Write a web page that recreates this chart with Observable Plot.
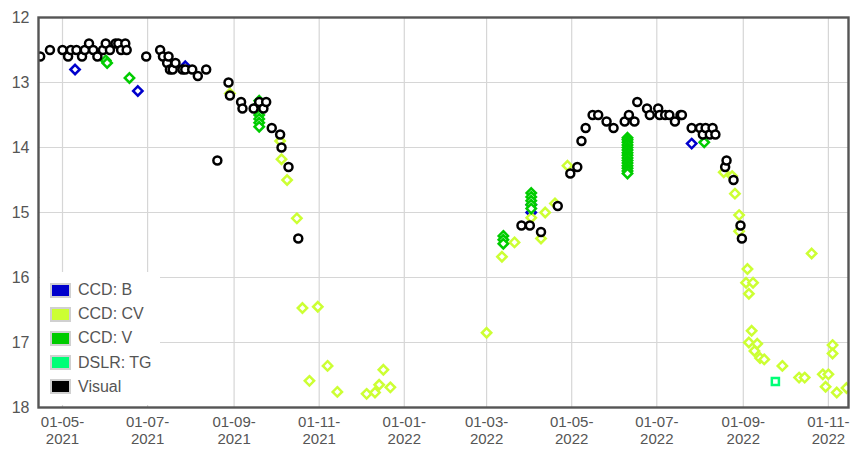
<!DOCTYPE html>
<html>
<head>
<meta charset="utf-8">
<script src="https://cdn.jsdelivr.net/npm/d3@7"></script>
<script src="https://cdn.jsdelivr.net/npm/@observablehq/plot@0.6"></script>
<style>
  html, body { margin: 0; padding: 0; background: #fff; }
  #wrap { position: relative; width: 850px; height: 449px; font-family: "Liberation Sans", Arial, sans-serif; }
  #legend { position: absolute; left: 40px; top: 272px; width: 120px; height: 133px; background: #fff; }
  .row { position: absolute; left: 10px; height: 16px; display: flex; align-items: center; }
  .sw { width: 21px; height: 15px; box-sizing: border-box; border: 2px solid #d0d0d0; margin-right: 7px; }
  .lbl { font-size: 16px; color: #555; white-space: nowrap; }
</style>
</head>
<body>
<div id="wrap"></div>
<script>
// ---- data ----
const seriesNames = ["CCD: B", "CCD: CV", "CCD: V", "DSLR: TG", "Visual"];
const seriesColors = ["#0000cc", "#ccff33", "#00cc00", "#00ff77", "#000000"];

const ccdB = [
  ["2021-05-10", 12.8], ["2021-06-24", 13.13], ["2021-07-28", 12.75],
  ["2022-04-02", 14.88], ["2022-04-02", 15.0], ["2022-07-26", 13.94]
];

const ccdCV = [
  ["2021-08-29", 13.17], ["2021-10-04", 13.9], ["2021-10-05", 14.18], ["2021-10-09", 14.5],
  ["2021-10-16", 15.09], ["2021-10-20", 16.47], ["2021-10-31", 16.45], ["2021-10-25", 17.59],
  ["2021-11-07", 17.36], ["2021-11-14", 17.76], ["2021-12-05", 17.79], ["2021-12-11", 17.77],
  ["2021-12-14", 17.65], ["2021-12-17", 17.42], ["2021-12-22", 17.69],
  ["2022-03-01", 16.85], ["2022-03-12", 15.68], ["2022-03-21", 15.46], ["2022-04-02", 15.08],
  ["2022-04-12", 15.0], ["2022-04-09", 15.4], ["2022-04-19", 14.86], ["2022-04-28", 14.28],
  ["2022-08-18", 14.38], ["2022-08-24", 14.44], ["2022-08-26", 14.71], ["2022-08-29", 15.04],
  ["2022-08-29", 15.29], ["2022-09-04", 15.87], ["2022-09-03", 16.08], ["2022-09-08", 16.08],
  ["2022-09-05", 16.25], ["2022-09-07", 16.82], ["2022-09-05", 17.0], ["2022-09-11", 17.02],
  ["2022-09-09", 17.13], ["2022-09-13", 17.24], ["2022-09-16", 17.26], ["2022-09-29", 17.36],
  ["2022-10-11", 17.54], ["2022-10-15", 17.54], ["2022-10-20", 15.63], ["2022-10-28", 17.49],
  ["2022-11-01", 17.49], ["2022-11-04", 17.04], ["2022-11-04", 17.17], ["2022-10-30", 17.68],
  ["2022-11-07", 17.77], ["2022-11-14", 17.7]
];

const ccdV = [
  ["2021-06-01", 12.66], ["2021-06-02", 12.7], ["2021-06-18", 12.93],
  ["2021-09-19", 13.28], ["2021-09-19", 13.33], ["2021-09-19", 13.38], ["2021-09-19", 13.44],
  ["2021-09-19", 13.5], ["2021-09-19", 13.56], ["2021-09-19", 13.62], ["2021-09-19", 13.68],
  ["2022-03-13", 15.36], ["2022-03-13", 15.42], ["2022-03-13", 15.48],
  ["2022-04-02", 14.7], ["2022-04-02", 14.76], ["2022-04-02", 14.82], ["2022-04-02", 14.88], ["2022-04-02", 14.94],
  ["2022-06-10", 13.85], ["2022-06-10", 13.88], ["2022-06-10", 13.92], ["2022-06-10", 13.96],
  ["2022-06-10", 14.0], ["2022-06-10", 14.04], ["2022-06-10", 14.08], ["2022-06-10", 14.12],
  ["2022-06-10", 14.16], ["2022-06-10", 14.2], ["2022-06-10", 14.24], ["2022-06-10", 14.28],
  ["2022-06-10", 14.32], ["2022-06-10", 14.36], ["2022-06-10", 14.4],
  ["2022-08-04", 13.92]
];

const dslrTG = [["2022-09-24", 17.6]];

const visual = [
  ["2021-04-15", 12.6], ["2021-04-22", 12.5], ["2021-05-01", 12.5], ["2021-05-05", 12.6],
  ["2021-05-07", 12.5], ["2021-05-11", 12.5], ["2021-05-15", 12.6], ["2021-05-17", 12.5],
  ["2021-05-20", 12.4], ["2021-05-23", 12.5], ["2021-05-26", 12.6], ["2021-05-30", 12.5],
  ["2021-06-01", 12.4], ["2021-06-04", 12.5], ["2021-06-08", 12.4], ["2021-06-10", 12.4],
  ["2021-06-12", 12.5], ["2021-06-15", 12.4], ["2021-06-16", 12.5], ["2021-06-30", 12.6],
  ["2021-07-10", 12.5], ["2021-07-12", 12.6], ["2021-07-15", 12.7], ["2021-07-16", 12.6],
  ["2021-07-17", 12.8], ["2021-07-19", 12.8], ["2021-07-21", 12.7], ["2021-07-26", 12.8],
  ["2021-07-28", 12.8], ["2021-08-02", 12.8], ["2021-08-06", 12.9], ["2021-08-12", 12.8],
  ["2021-08-20", 14.2], ["2021-08-28", 13.0], ["2021-08-29", 13.2], ["2021-09-06", 13.3],
  ["2021-09-07", 13.4], ["2021-09-15", 13.4], ["2021-09-19", 13.3], ["2021-09-22", 13.4],
  ["2021-09-24", 13.3], ["2021-09-28", 13.7], ["2021-10-04", 13.8], ["2021-10-05", 14.0],
  ["2021-10-10", 14.3], ["2021-10-17", 15.4],
  ["2022-03-26", 15.2], ["2022-04-01", 15.2], ["2022-04-09", 15.3], ["2022-04-21", 14.9],
  ["2022-04-30", 14.4], ["2022-05-05", 14.3], ["2022-05-08", 13.9], ["2022-05-11", 13.7],
  ["2022-05-16", 13.5], ["2022-05-20", 13.5], ["2022-05-26", 13.6], ["2022-05-31", 13.7],
  ["2022-06-08", 13.6], ["2022-06-11", 13.5], ["2022-06-15", 13.6], ["2022-06-17", 13.3],
  ["2022-06-24", 13.4], ["2022-06-26", 13.5], ["2022-07-02", 13.4], ["2022-07-03", 13.5],
  ["2022-07-07", 13.5], ["2022-07-10", 13.5], ["2022-07-14", 13.6], ["2022-07-18", 13.5],
  ["2022-07-19", 13.5], ["2022-07-26", 13.7], ["2022-08-01", 13.7], ["2022-08-03", 13.8],
  ["2022-08-05", 13.7], ["2022-08-08", 13.8], ["2022-08-10", 13.7], ["2022-08-12", 13.8],
  ["2022-08-19", 14.3], ["2022-08-20", 14.2], ["2022-08-25", 14.5], ["2022-08-30", 15.2],
  ["2022-08-31", 15.4]
];

const xTicks = ["2021-05-01", "2021-07-01", "2021-09-01", "2021-11-01", "2022-01-01",
                "2022-03-01", "2022-05-01", "2022-07-01", "2022-09-01", "2022-11-01"];
const yTicks = [12, 13, 14, 15, 16, 17, 18];
const xDomain = ["2021-04-13T19:00:00Z", "2022-11-15T10:00:00Z"];
const yDomain = [12, 18];

// ---- build ----
const toRows = (arr) => arr.map(([d, m]) => ({date: new Date(d + "T00:00:00Z"), mag: m}));
const pad = (n) => String(n).padStart(2, "0");
const fmt = (d) => `${pad(d.getUTCDate())}-${pad(d.getUTCMonth() + 1)}-\n${d.getUTCFullYear()}`;

const dotOpts = (color, symbol, r) => ({
  x: "date", y: "mag", symbol, r, stroke: color, strokeWidth: 2.5, fill: "white", clip: true
});

const chart = Plot.plot({
  width: 850,
  height: 449,
  marginLeft: 38,
  marginRight: 2,
  marginTop: 17,
  marginBottom: 42,
  style: {fontFamily: "'Liberation Sans', Arial, sans-serif", fontSize: "15px", color: "#555", background: "white"},
  x: {type: "utc", domain: xDomain.map((d) => new Date(d))},
  y: {domain: yDomain, reverse: true},
  marks: [
    Plot.gridX(xTicks.map((d) => new Date(d + "T00:00:00Z")), {stroke: "#d6d6d6", strokeOpacity: 1, strokeWidth: 1.2}),
    Plot.gridY(yTicks, {stroke: "#d6d6d6", strokeOpacity: 1, strokeWidth: 1.2}),
    Plot.axisY(yTicks, {tickSize: 0, tickPadding: 9, fill: "#555", fontSize: 16, tickFormat: (d) => String(d), label: null}),
    Plot.axisX(xTicks.map((d) => new Date(d + "T00:00:00Z")), {
      tickSize: 0, tickPadding: 7, fill: "#555", fontSize: 15, lineHeight: 1.15,
      tickFormat: fmt, label: null
    }),
    Plot.dot(toRows(ccdB), dotOpts(seriesColors[0], "diamond2", 4.2)),
    Plot.dot(toRows(ccdCV), dotOpts(seriesColors[1], "diamond2", 4.2)),
    Plot.dot(toRows(ccdV), dotOpts(seriesColors[2], "diamond2", 4.2)),
    Plot.dot(toRows(dslrTG), dotOpts(seriesColors[3], "square2", 4.5)),
    Plot.dot(toRows(visual), dotOpts(seriesColors[4], "circle", 4)),
    Plot.frame({stroke: "#555", strokeWidth: 2.4})
  ]
});

const wrap = document.getElementById("wrap");
wrap.appendChild(chart);

// legend overlay inside the plot area
const legend = document.createElement("div");
legend.id = "legend";
seriesNames.forEach((name, i) => {
  const row = document.createElement("div");
  row.className = "row";
  row.style.top = (10 + i * 24.2) + "px";
  const sw = document.createElement("div");
  sw.className = "sw";
  sw.style.background = seriesColors[i];
  const lbl = document.createElement("span");
  lbl.className = "lbl";
  lbl.textContent = name;
  row.appendChild(sw);
  row.appendChild(lbl);
  legend.appendChild(row);
});
wrap.appendChild(legend);
</script>
</body>
</html>
